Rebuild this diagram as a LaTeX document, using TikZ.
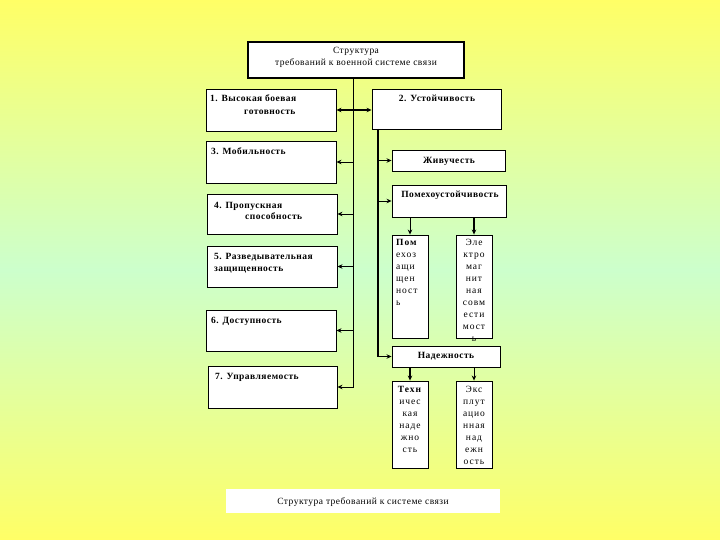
\documentclass[tikz,border=0pt]{standalone}
\usepackage{fontspec}
\setmainfont[LetterSpace=5]{Liberation Serif}
\usetikzlibrary{arrows.meta}
\definecolor{bgyellow}{HTML}{FFFF66}
\definecolor{bggreen}{HTML}{CCFFCC}
\begin{document}
\begin{tikzpicture}[x=1pt,y=-1pt,
  box/.style={draw=black, fill=white, line width=0.9pt, inner sep=0pt},
  txt/.style={inner sep=0pt, font=\fontsize{9.5}{12}\selectfont},
  btxt/.style={inner sep=0pt, font=\fontsize{9.5}{12}\selectfont\bfseries},
  ntxt/.style={inner sep=0pt, font=\fontsize{9.5}{12}\selectfont\addfontfeature{LetterSpace=10}, text width=36pt},
  conn/.style={line width=0.9pt},
  arr/.style={line width=0.9pt, -{Stealth[length=5pt,width=4.5pt]}},
  darr/.style={line width=1.4pt, {Stealth[length=5pt,width=4.5pt]}-{Stealth[length=5pt,width=4.5pt]}},
  barr/.style={line width=1.4pt, -{Stealth[length=5pt,width=4.5pt]}}]
\useasboundingbox (0,0) rectangle (720,540);
\shade[top color=bgyellow, bottom color=bgyellow, middle color=bggreen] (0,0) rectangle (720,540);

% title
\node[box, line width=2.2pt, minimum width=216pt, minimum height=36pt] (title) at (356,60) {};
\node[txt, anchor=base] (tt1) at (356,54) {Структура};
\node[txt, anchor=base] (tt2) at (356,66) {требований к военной системе связи};

% left boxes
\node[box, minimum width=130pt, minimum height=42pt] (b1) at (271,110) {};
\node[btxt, anchor=base west] (b1a) at (210,102) {1. Высокая боевая};
\node[btxt, anchor=base west] (b1b) at (244,115) {готовность};

\node[box, minimum width=130pt, minimum height=42pt] (b3) at (271,162) {};
\node[btxt, anchor=base west] (b3a) at (211,155) {3. Мобильность};

\node[box, minimum width=130pt, minimum height=40pt] (b4) at (272,214) {};
\node[btxt, anchor=base west] (b4a) at (214,208) {4. Пропускная};
\node[btxt, anchor=base west] (b4b) at (245,219) {способность};

\node[box, minimum width=130pt, minimum height=41pt] (b5) at (272,266.5) {};
\node[btxt, anchor=base west] (b5a) at (214,259) {5. Разведывательная};
\node[btxt, anchor=base west] (b5b) at (214,271) {защищенность};

\node[box, minimum width=130pt, minimum height=41pt] (b6) at (271,330.5) {};
\node[btxt, anchor=base west] (b6a) at (211,323) {6. Доступность};

\node[box, minimum width=129pt, minimum height=42pt] (b7) at (272.5,387) {};
\node[btxt, anchor=base west] (b7a) at (215,379) {7. Управляемость};

% right boxes
\node[box, minimum width=129pt, minimum height=40pt] (b2) at (436.5,109) {};
\node[btxt, anchor=base] (b2a) at (437,102) {2. Устойчивость};

\node[box, minimum width=113pt, minimum height=21pt] (zh) at (448.5,160.5) {};
\node[btxt, anchor=base] (zha) at (449,164) {Живучесть};

\node[box, minimum width=114pt, minimum height=32pt] (pu) at (449,201) {};
\node[btxt, anchor=base] (pua) at (450,198) {Помехоустойчивость};

\node[box, minimum width=36pt, minimum height=103pt] (pz) at (410,286.5) {};
\node[ntxt, align=left, anchor=north west] (pza) at (396,239) {\textbf{Пом}\\ехоз\\ащи\\щен\\ност\\ь};

\node[box, minimum width=36pt, minimum height=103pt] (em) at (474,286.5) {};
\node[ntxt, align=center, anchor=north] (ema) at (474,239) {Эле\\ктро\\маг\\нит\\ная\\совм\\ести\\мост\\ь};

\node[box, minimum width=108pt, minimum height=21pt] (nd) at (446,356.5) {};
\node[btxt, anchor=base] (nda) at (446,358) {Надежность};

\node[box, minimum width=36pt, minimum height=87pt] (tn) at (410,424.5) {};
\node[ntxt, align=center, anchor=north] (tna) at (410,386) {\textbf{Техн}\\ичес\\кая\\наде\\жно\\сть};

\node[box, minimum width=36pt, minimum height=87pt] (en) at (474,424.5) {};
\node[ntxt, align=center, anchor=north] (ena) at (474,386) {Экс\\плут\\ацио\\нная\\над\\ежн\\ость};

% caption
\node[fill=white, inner sep=0pt, minimum width=274pt, minimum height=24pt] (cap) at (363,501) {};
\node[txt, anchor=base] (capa) at (363,504) {Структура требований к системе связи};

% connectors
\coordinate (lt) at (353,78);
\coordinate (rt) at (378,129);
\draw[arr] (lt) |- (b7.east);
\draw[darr] (b1.east) -- (b1.east -| b2.west);
\draw[arr] (b3.east -| lt) -- (b3.east);
\draw[arr] (b4.east -| lt) -- (b4.east);
\draw[arr] (b5.east -| lt) -- (b5.east);
\draw[barr] (b6.east -| lt) -- (b6.east);

\draw[barr] (rt) |- (nd.west);
\draw[barr] (zh.west -| rt) -- (zh.west);
\draw[arr] (pu.west -| rt) -- (pu.west);
\draw[arr] (pz.north |- pu.south) -- (pz.north);
\draw[barr] (em.north |- pu.south) -- (em.north);
\draw[barr] (tn.north |- nd.south) -- (tn.north);
\draw[arr] (en.north |- nd.south) -- (en.north);
\end{tikzpicture}
\end{document}
